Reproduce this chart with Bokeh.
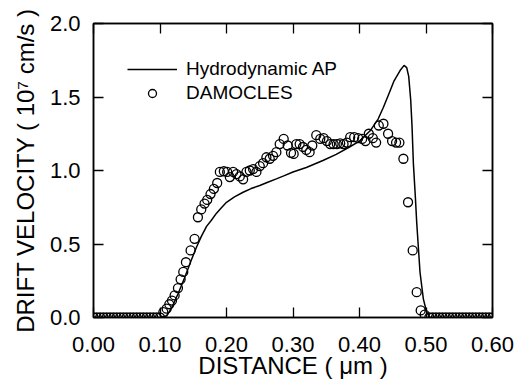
from bokeh.plotting import figure
from bokeh.models import LinearAxis, FixedTicker, Range1d, Legend, LegendItem, NumeralTickFormatter
from bokeh.embed import file_html
from bokeh.resources import INLINE

FONT = "Liberation Sans"

# Hydrodynamic AP (solid line)
hydro_x = [0.000, 0.100, 0.110, 0.118, 0.127, 0.137, 0.147, 0.155, 0.162, 0.170,
           0.177, 0.185, 0.192, 0.200, 0.212, 0.225, 0.237, 0.250, 0.262, 0.275,
           0.287, 0.300, 0.320, 0.345, 0.365, 0.385, 0.400, 0.416, 0.428, 0.436,
           0.445, 0.452, 0.461, 0.467, 0.471, 0.474, 0.477, 0.479, 0.481, 0.484,
           0.486, 0.491, 0.496, 0.501, 0.506, 0.600]
hydro_y = [0.0, 0.0, 0.01, 0.07, 0.16, 0.27, 0.39, 0.48, 0.55, 0.62,
           0.66, 0.71, 0.745, 0.784, 0.82, 0.852, 0.877, 0.898, 0.92, 0.943,
           0.965, 0.99, 1.02, 1.068, 1.11, 1.16, 1.20, 1.27, 1.35, 1.43,
           1.53, 1.61, 1.68, 1.715, 1.70, 1.64, 1.48, 1.30, 1.05, 0.82,
           0.648, 0.308, 0.127, 0.036, 0.0, 0.0]

# DAMOCLES (open circles)
damo_x = [0.000, 0.005, 0.010, 0.015, 0.020, 0.025, 0.030, 0.035, 0.040, 0.045,
          0.050, 0.055, 0.060, 0.065, 0.070, 0.075, 0.080, 0.085, 0.090, 0.095,
          0.100, 0.105, 0.110, 0.114, 0.118, 0.122, 0.127, 0.131, 0.135, 0.139,
          0.146, 0.152, 0.157, 0.162, 0.167, 0.171, 0.176, 0.181, 0.186, 0.190,
          0.196, 0.201, 0.205, 0.210, 0.215, 0.220, 0.225, 0.230, 0.235, 0.240,
          0.245, 0.250, 0.255, 0.260, 0.265, 0.270, 0.275, 0.280, 0.286, 0.292,
          0.297, 0.301, 0.305, 0.310, 0.315, 0.320, 0.325, 0.329, 0.335, 0.341,
          0.346, 0.351, 0.356, 0.361, 0.366, 0.371, 0.376, 0.381, 0.386, 0.392,
          0.398, 0.404, 0.409, 0.414, 0.420, 0.425, 0.429, 0.436, 0.443, 0.449,
          0.455, 0.460, 0.466, 0.473, 0.480, 0.486, 0.492, 0.498, 0.505, 0.510,
          0.515, 0.520, 0.525, 0.530, 0.535, 0.540, 0.545, 0.550, 0.555, 0.560,
          0.565, 0.570, 0.575, 0.580, 0.585, 0.590, 0.595, 0.600]
damo_y = [0.0, 0.0, 0.0, 0.0, 0.0, 0.0, 0.0, 0.0, 0.0, 0.0,
          0.0, 0.0, 0.0, 0.0, 0.0, 0.0, 0.0, 0.0, 0.0, 0.0,
          0.0, 0.036, 0.06, 0.09, 0.115, 0.15, 0.20, 0.26, 0.31, 0.376,
          0.456, 0.535, 0.682, 0.735, 0.775, 0.80, 0.84, 0.875, 0.915, 0.99,
          0.995, 0.99, 0.955, 0.99, 0.975, 0.96, 0.94, 0.99, 1.00, 1.01,
          0.99, 1.03, 1.05, 1.09, 1.08, 1.10, 1.125, 1.18, 1.215, 1.17,
          1.12, 1.113, 1.18, 1.18, 1.16, 1.14, 1.125, 1.17, 1.24, 1.215,
          1.22, 1.20, 1.18, 1.18, 1.18, 1.185, 1.18, 1.19, 1.227, 1.227,
          1.22, 1.215, 1.20, 1.25, 1.22, 1.19, 1.306, 1.318, 1.25, 1.20,
          1.19, 1.19, 1.08, 0.784, 0.456, 0.172, 0.048, 0.02, 0.0, 0.0,
          0.0, 0.0, 0.0, 0.0, 0.0, 0.0, 0.0, 0.0, 0.0, 0.0,
          0.0, 0.0, 0.0, 0.0, 0.0, 0.0, 0.0, 0.0]

x_ticks = [0.0, 0.1, 0.2, 0.3, 0.4, 0.5, 0.6]
y_ticks = [0.0, 0.5, 1.0, 1.5, 2.0]
x_label = "DISTANCE ( \u03bcm )"
y_label = "DRIFT VELOCITY ( 10\u2077 cm/s )"
legend_labels = ["Hydrodynamic AP", "DAMOCLES"]

p = figure(frame_width=399, frame_height=294,
           x_range=Range1d(0, 0.6), y_range=Range1d(0, 2.0),
           output_backend="svg", toolbar_location=None,
           min_border_left=93, min_border_top=23, min_border_right=22,
           min_border_bottom=10)
p.grid.visible = False
p.outline_line_color = "black"
p.outline_line_width = 1.5
p.background_fill_color = "white"
p.border_fill_color = "white"

line_r = p.line(hydro_x, hydro_y, line_color="black", line_width=1.5)
circ_r = p.scatter(damo_x, damo_y, marker="circle", size=9, fill_color=None,
                   line_color="black", line_width=1.3)

def style_axis(ax):
    ax.major_tick_in = 10
    ax.major_tick_out = 0
    ax.minor_tick_line_color = None
    ax.axis_line_width = 1.5
    ax.major_tick_line_width = 1.3
    ax.major_label_text_font = FONT
    ax.axis_label_text_font = FONT
    ax.axis_label_text_font_style = "normal"
    ax.major_label_text_color = "black"
    ax.axis_label_text_color = "black"

xa = p.xaxis[0]
style_axis(xa)
xa.ticker = FixedTicker(ticks=x_ticks)
xa.formatter = NumeralTickFormatter(format="0.00")
xa.major_label_text_font_size = "22px"
xa.major_label_standoff = 19
xa.axis_label = x_label
xa.axis_label_text_font_size = "24px"
xa.axis_label_standoff = -3

ya = p.yaxis[0]
style_axis(ya)
ya.ticker = FixedTicker(ticks=y_ticks)
ya.formatter = NumeralTickFormatter(format="0.0")
ya.major_label_text_font_size = "22px"
ya.major_label_standoff = 13
ya.axis_label = y_label
ya.axis_label_text_font_size = "24px"
ya.axis_label_standoff = 8

top = LinearAxis(ticker=FixedTicker(ticks=x_ticks),
                 major_label_overrides={t: "" for t in x_ticks},
                 major_label_standoff=0)
style_axis(top)
p.add_layout(top, "above")

right = LinearAxis(ticker=FixedTicker(ticks=y_ticks),
                   major_label_overrides={t: "" for t in y_ticks},
                   major_label_standoff=0)
style_axis(right)
p.add_layout(right, "right")

legend = Legend(items=[LegendItem(label=legend_labels[0], renderers=[line_r]),
                       LegendItem(label=legend_labels[1], renderers=[circ_r])],
                location=(34, 213))
legend.border_line_color = None
legend.background_fill_alpha = 0
legend.glyph_width = 50
legend.glyph_height = 20
legend.label_standoff = 9
legend.spacing = 2
legend.padding = 0
legend.margin = 0
legend.label_text_font = FONT
legend.label_text_font_size = "19px"
legend.label_text_color = "black"
p.add_layout(legend, "center")

open("out.html", "w").write(file_html(p, INLINE))
